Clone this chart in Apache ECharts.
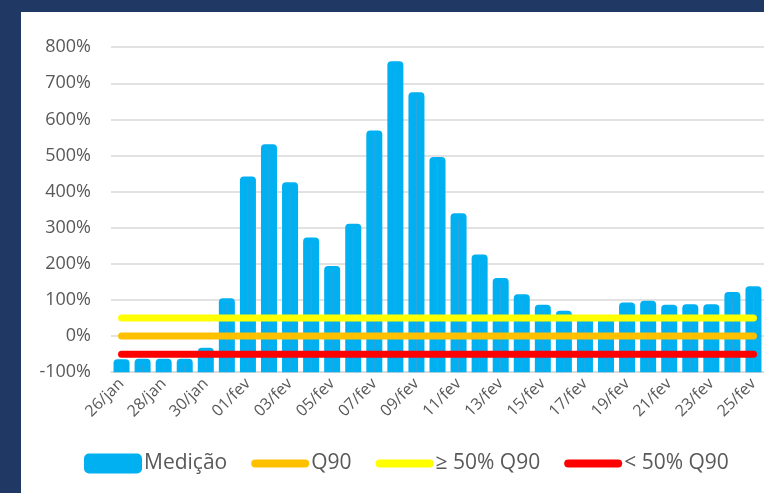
<!DOCTYPE html>
<html>
<head>
<meta charset="utf-8">
<script src="https://cdn.jsdelivr.net/npm/echarts@6/dist/echarts.min.js"></script>
<style>
  html, body { margin: 0; padding: 0; background: #1f3864; }
  #panel { position: absolute; left: 21px; top: 12px; width: 743px; height: 481px; background: #ffffff; }
  #main { position: absolute; left: 0; top: 0; width: 764px; height: 493px; }
</style>
</head>
<body>
<div id="panel"></div>
<div id="main"></div>
<script>
const categories = ['26/jan','27/jan','28/jan','29/jan','30/jan','31/jan',
  '01/fev','02/fev','03/fev','04/fev','05/fev','06/fev','07/fev','08/fev','09/fev','10/fev',
  '11/fev','12/fev','13/fev','14/fev','15/fev','16/fev','17/fev','18/fev','19/fev','20/fev',
  '21/fev','22/fev','23/fev','24/fev','25/fev'];
const medicao = [-64, -63, -63, -63, -32, 105,
  442, 531, 426, 273, 194, 311, 569, 761, 675, 496,
  340, 226, 161, 116, 87, 70, 55, 56, 93, 98,
  87, 88, 88, 122, 138];
const q90Level = 0;
const acima50Level = 50;
const abaixo50Level = -50;
const yTicks = { min: -100, max: 800, interval: 100 };

const FONT = 'Open Sans';
const TXT = '#595959';
const first = categories[0], last = categories[categories.length - 1];
const LINE_ICON = 'path://M4,0 L54,0 A4,4 0 0 1 54,8 L4,8 A4,4 0 0 1 4,0 Z';

const chart = echarts.init(document.getElementById('main'), null, { renderer: 'canvas' });
chart.setOption({
  backgroundColor: 'transparent',
  animation: false,
  textStyle: { fontFamily: FONT },
  grid: { left: 111, right: 0, top: 47.2, bottom: 120.8 },
  legend: {
    left: 79, top: 448,
    itemWidth: 58, itemHeight: 20, itemGap: 24,
    symbolKeepAspect: true,
    textStyle: { fontFamily: FONT, fontSize: 21, color: TXT, padding: [0, 0, 0, -3] },
    data: [
      { name: 'Medição', icon: 'roundRect', itemStyle: { color: '#00b0f0' } },
      { name: 'Q90', icon: LINE_ICON, itemStyle: { color: '#ffc000' } },
      { name: '≥ 50% Q90', icon: LINE_ICON, itemStyle: { color: '#ffff00' } },
      { name: '< 50% Q90', icon: LINE_ICON, itemStyle: { color: '#ff0000' } }
    ]
  },
  xAxis: {
    type: 'category',
    data: categories,
    boundaryGap: true,
    axisLine: { onZero: false, lineStyle: { color: '#d9d9d9', width: 1.5 } },
    axisTick: { interval: 1, length: 5, lineStyle: { color: '#d9d9d9', width: 1.5 } },
    axisLabel: { interval: 1, rotate: 45, fontSize: 16, color: TXT, fontFamily: FONT, margin: 9 },
    splitLine: { show: false }
  },
  yAxis: {
    type: 'value',
    min: yTicks.min, max: yTicks.max, interval: yTicks.interval,
    axisLine: { show: false }, axisTick: { show: false },
    axisLabel: { formatter: '{value}%', fontSize: 18, color: TXT, fontFamily: FONT, margin: 20 },
    splitLine: { lineStyle: { color: '#d9d9d9', width: 1.5 } }
  },
  series: [
    {
      name: 'Medição',
      type: 'custom',
      itemStyle: { color: '#00b0f0' },
      encode: { x: 0, y: 1 },
      data: categories.map((c, i) => [i, medicao[i]]),
      renderItem: function (params, api) {
        const xi = api.value(0);
        const top = api.coord([xi, api.value(1)]);
        const base = api.coord([xi, yTicks.min]);
        const w = api.size([1, 0])[0] * 0.76;
        return {
          type: 'group',
          children: [
            { type: 'rect', shape: { x: top[0] - w / 2, y: top[1], width: w, height: base[1] - top[1], r: [4, 4, 0, 0] },
              style: { fill: '#00b0f0' } },
            { type: 'line', shape: { x1: top[0], y1: top[1] + 6, x2: top[0], y2: base[1] },
              style: { stroke: 'rgba(110,150,200,0.45)', lineWidth: 1 } }
          ]
        };
      },
      z: 2
    },
    {
      name: 'Q90', type: 'line', symbol: 'none', z: 3,
      lineStyle: { color: '#ffc000', width: 7, cap: 'round' },
      itemStyle: { color: '#ffc000' },
      data: [[first, q90Level], [last, q90Level]]
    },
    {
      name: '≥ 50% Q90', type: 'line', symbol: 'none', z: 3,
      lineStyle: { color: '#ffff00', width: 7, cap: 'round' },
      itemStyle: { color: '#ffff00' },
      data: [[first, acima50Level], [last, acima50Level]]
    },
    {
      name: '< 50% Q90', type: 'line', symbol: 'none', z: 3,
      lineStyle: { color: '#ff0000', width: 7, cap: 'round' },
      itemStyle: { color: '#ff0000' },
      data: [[first, abaixo50Level], [last, abaixo50Level]]
    }
  ]
});
</script>
</body>
</html>
